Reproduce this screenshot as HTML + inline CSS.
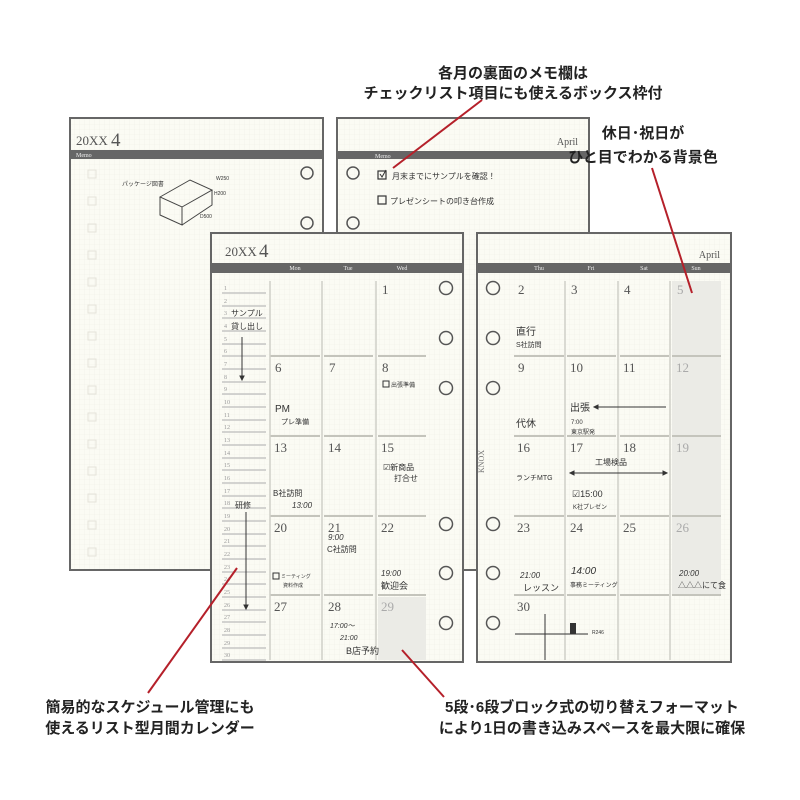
<!DOCTYPE html>
<html><head><meta charset="utf-8"><style>
html,body{margin:0;padding:0;background:#fff;}
svg{display:block;}
.h{font-family:"Liberation Sans","Noto Sans CJK JP",sans-serif;font-weight:bold;font-size:15px;fill:#222;}
.s{font-family:"Liberation Serif",serif;fill:#555;}
.w{font-family:"Liberation Sans","Noto Sans CJK JP",sans-serif;fill:#333;}
</style></head><body>
<svg width="800" height="800" viewBox="0 0 800 800" xmlns="http://www.w3.org/2000/svg">
<defs>
<pattern id="g" width="5" height="5" patternUnits="userSpaceOnUse">
<path d="M5 0V5H0" fill="none" stroke="#efeee6" stroke-width="0.6"/>
</pattern>
</defs>
<rect width="800" height="800" fill="#fff"/>

<!-- back left page -->
<rect x="70" y="118" width="253" height="452" fill="#fbfbf4"/>
<rect x="70" y="118" width="253" height="452" fill="url(#g)" stroke="#666" stroke-width="2"/>
<text x="76" y="145" class="s" font-size="13">20XX</text><text x="111" y="146" class="s" font-size="19">4</text>
<rect x="71" y="150" width="251" height="9" fill="#666"/>
<text x="76" y="157" font-family="Liberation Serif" font-size="6" fill="#eee">Memo</text>
<g fill="none" stroke="#e4e3da" stroke-width="1">
<rect x="88" y="170" width="8" height="8"/><rect x="88" y="197" width="8" height="8"/><rect x="88" y="224" width="8" height="8"/><rect x="88" y="251" width="8" height="8"/><rect x="88" y="278" width="8" height="8"/><rect x="88" y="305" width="8" height="8"/><rect x="88" y="332" width="8" height="8"/><rect x="88" y="359" width="8" height="8"/><rect x="88" y="386" width="8" height="8"/><rect x="88" y="413" width="8" height="8"/><rect x="88" y="440" width="8" height="8"/><rect x="88" y="467" width="8" height="8"/><rect x="88" y="494" width="8" height="8"/><rect x="88" y="521" width="8" height="8"/><rect x="88" y="548" width="8" height="8"/>
</g>
<text x="122" y="186" class="w" font-size="6">パッケージ図書</text>
<g fill="none" stroke="#444" stroke-width="1">
<path d="M160 197 L190 180 L212 190 L182 207 Z M160 197 V215 L182 225 V207 M212 190 V205 L182 225"/>
</g>
<text x="216" y="180" class="w" font-size="5">W250</text>
<text x="214" y="195" class="w" font-size="5">H200</text>
<text x="200" y="218" class="w" font-size="5">D500</text>
<circle cx="307" cy="173" r="6" fill="none" stroke="#555" stroke-width="1.5"/>
<circle cx="307" cy="223" r="6" fill="none" stroke="#555" stroke-width="1.5"/>

<!-- back right page -->
<rect x="337" y="118" width="252" height="452" fill="#fbfbf4"/>
<rect x="337" y="118" width="252" height="452" fill="url(#g)" stroke="#666" stroke-width="2"/>
<text x="578" y="145" text-anchor="end" class="s" font-size="10">April</text>
<rect x="338" y="151" width="250" height="8" fill="#666"/>
<text x="375" y="158" font-family="Liberation Serif" font-size="6" fill="#eee">Memo</text>
<circle cx="353" cy="173" r="6" fill="none" stroke="#555" stroke-width="1.5"/>
<circle cx="353" cy="223" r="6" fill="none" stroke="#555" stroke-width="1.5"/>
<rect x="378" y="171" width="8" height="8" fill="none" stroke="#333" stroke-width="1.2"/>
<path d="M380 174 l2 3 l4 -7" fill="none" stroke="#333"/>
<text x="392" y="179" class="w" font-size="8">月末までにサンプルを確認！</text>
<rect x="378" y="196" width="8" height="8" fill="none" stroke="#333" stroke-width="1.2"/>
<text x="390" y="204" class="w" font-size="8">プレゼンシートの叩き台作成</text>

<!-- front left page -->
<rect x="211" y="233" width="252" height="429" fill="#fbfbf4"/>
<rect x="211" y="233" width="252" height="429" fill="url(#g)" stroke="#666" stroke-width="2"/>
<text x="225" y="256" class="s" font-size="13">20XX</text><text x="259" y="257" class="s" font-size="19">4</text>
<rect x="212" y="263" width="250" height="10" fill="#666"/>
<g font-family="Liberation Serif" font-size="6" fill="#eee" text-anchor="middle">
<text x="295" y="270">Mon</text><text x="348" y="270">Tue</text><text x="402" y="270">Wed</text>
</g>
<rect x="378" y="597" width="48" height="63" fill="#ebebe6"/>
<g stroke="#bbb" stroke-width="1.2">
<line x1="222" y1="293" x2="266" y2="293"/><line x1="222" y1="306" x2="266" y2="306"/><line x1="222" y1="318" x2="266" y2="318"/><line x1="222" y1="331" x2="266" y2="331"/><line x1="222" y1="344" x2="266" y2="344"/><line x1="222" y1="356" x2="266" y2="356"/><line x1="222" y1="369" x2="266" y2="369"/><line x1="222" y1="382" x2="266" y2="382"/><line x1="222" y1="394" x2="266" y2="394"/><line x1="222" y1="407" x2="266" y2="407"/><line x1="222" y1="420" x2="266" y2="420"/><line x1="222" y1="432" x2="266" y2="432"/><line x1="222" y1="445" x2="266" y2="445"/><line x1="222" y1="458" x2="266" y2="458"/><line x1="222" y1="470" x2="266" y2="470"/><line x1="222" y1="483" x2="266" y2="483"/><line x1="222" y1="496" x2="266" y2="496"/><line x1="222" y1="508" x2="266" y2="508"/><line x1="222" y1="521" x2="266" y2="521"/><line x1="222" y1="534" x2="266" y2="534"/><line x1="222" y1="546" x2="266" y2="546"/><line x1="222" y1="559" x2="266" y2="559"/><line x1="222" y1="572" x2="266" y2="572"/><line x1="222" y1="584" x2="266" y2="584"/><line x1="222" y1="597" x2="266" y2="597"/><line x1="222" y1="610" x2="266" y2="610"/><line x1="222" y1="622" x2="266" y2="622"/><line x1="222" y1="635" x2="266" y2="635"/><line x1="222" y1="648" x2="266" y2="648"/><line x1="222" y1="660" x2="266" y2="660"/>
</g>
<g font-family="Liberation Serif" font-size="6" fill="#999">
<text x="224" y="290">1</text><text x="224" y="303">2</text><text x="224" y="315">3</text><text x="224" y="328">4</text><text x="224" y="341">5</text><text x="224" y="353">6</text><text x="224" y="366">7</text><text x="224" y="379">8</text><text x="224" y="391">9</text><text x="224" y="404">10</text><text x="224" y="417">11</text><text x="224" y="429">12</text><text x="224" y="442">13</text><text x="224" y="455">14</text><text x="224" y="467">15</text><text x="224" y="480">16</text><text x="224" y="493">17</text><text x="224" y="505">18</text><text x="224" y="518">19</text><text x="224" y="531">20</text><text x="224" y="543">21</text><text x="224" y="556">22</text><text x="224" y="569">23</text><text x="224" y="581">24</text><text x="224" y="594">25</text><text x="224" y="607">26</text><text x="224" y="619">27</text><text x="224" y="632">28</text><text x="224" y="645">29</text><text x="224" y="657">30</text>
</g>
<g class="w" font-size="8"><text x="231" y="316">サンプル</text><text x="231" y="329">貸し出し</text><text x="235" y="508">研修</text></g>
<g stroke="#333" stroke-width="1"><line x1="242" y1="337" x2="242" y2="378"/><path d="M240 376 l2 4 l2 -4z" fill="#333"/><line x1="246" y1="512" x2="246" y2="607"/><path d="M244 605 l2 4 l2 -4z" fill="#333"/></g>
<g stroke="#c4c4bc" stroke-width="2">
<line x1="270" y1="356" x2="320" y2="356"/><line x1="324" y1="356" x2="373" y2="356"/><line x1="378" y1="356" x2="426" y2="356"/>
<line x1="270" y1="436" x2="320" y2="436"/><line x1="324" y1="436" x2="373" y2="436"/><line x1="378" y1="436" x2="426" y2="436"/>
<line x1="270" y1="516" x2="320" y2="516"/><line x1="324" y1="516" x2="373" y2="516"/><line x1="378" y1="516" x2="426" y2="516"/>
<line x1="270" y1="595" x2="320" y2="595"/><line x1="324" y1="595" x2="373" y2="595"/><line x1="378" y1="595" x2="426" y2="595"/>
</g>
<g stroke="#d0d0c8" stroke-width="1.5">
<line x1="270" y1="281" x2="270" y2="660"/><line x1="322" y1="281" x2="322" y2="660"/><line x1="376" y1="281" x2="376" y2="660"/>
</g>
<g class="s" font-size="13">
<text x="382" y="294">1</text>
<text x="275" y="372">6</text><text x="329" y="372">7</text><text x="382" y="372">8</text>
<text x="274" y="452">13</text><text x="328" y="452">14</text><text x="381" y="452">15</text>
<text x="274" y="532">20</text><text x="328" y="532">21</text><text x="381" y="532">22</text>
<text x="274" y="611">27</text><text x="328" y="611">28</text><text x="381" y="611" fill="#aaa">29</text>
</g>
<g class="w">
<rect x="383" y="381" width="6" height="6" fill="none" stroke="#333"/><text x="391" y="387" font-size="6">出張準備</text>
<text x="275" y="412" font-size="10">PM</text><text x="281" y="424" font-size="7">プレ準備</text>
<text x="383" y="470" font-size="8">☑新商品</text><text x="394" y="481" font-size="8">打合せ</text>
<text x="273" y="496" font-size="8">B社訪問</text><text x="292" y="508" font-size="8" font-style="italic">13:00</text>
<text x="328" y="540" font-size="8" font-style="italic">9:00</text><text x="327" y="552" font-size="8">C社訪問</text>
<rect x="273" y="573" width="6" height="6" fill="none" stroke="#333"/><text x="281" y="578" font-size="5">ミーティング</text><text x="283" y="587" font-size="5">資料作成</text>
<text x="381" y="576" font-size="8" font-style="italic">19:00</text><text x="381" y="589" font-size="9">歓迎会</text>
<text x="330" y="628" font-size="7" font-style="italic">17:00〜</text><text x="340" y="640" font-size="7" font-style="italic">21:00</text>
<text x="346" y="654" font-size="9">B店予約</text>
</g>
<g fill="none" stroke="#555" stroke-width="1.5">
<circle cx="446" cy="288" r="6.5"/><circle cx="446" cy="338" r="6.5"/><circle cx="446" cy="388" r="6.5"/><circle cx="446" cy="524" r="6.5"/><circle cx="446" cy="573" r="6.5"/><circle cx="446" cy="623" r="6.5"/>
</g>

<!-- front right page -->
<rect x="477" y="233" width="254" height="429" fill="#fbfbf4"/>
<rect x="477" y="233" width="254" height="429" fill="url(#g)" stroke="#666" stroke-width="2"/>
<text x="720" y="258" text-anchor="end" class="s" font-size="10">April</text>
<rect x="478" y="263" width="252" height="10" fill="#666"/>
<g font-family="Liberation Serif" font-size="6" fill="#eee" text-anchor="middle">
<text x="539" y="270">Thu</text><text x="591" y="270">Fri</text><text x="644" y="270">Sat</text><text x="696" y="270">Sun</text>
</g>
<rect x="672" y="281" width="49" height="314" fill="#ebebe6"/>
<g stroke="#c4c4bc" stroke-width="2">
<line x1="514" y1="356" x2="564" y2="356"/><line x1="567" y1="356" x2="616" y2="356"/><line x1="620" y1="356" x2="669" y2="356"/><line x1="672" y1="356" x2="721" y2="356"/>
<line x1="514" y1="436" x2="564" y2="436"/><line x1="567" y1="436" x2="616" y2="436"/><line x1="620" y1="436" x2="669" y2="436"/><line x1="672" y1="436" x2="721" y2="436"/>
<line x1="514" y1="516" x2="564" y2="516"/><line x1="567" y1="516" x2="616" y2="516"/><line x1="620" y1="516" x2="669" y2="516"/><line x1="672" y1="516" x2="721" y2="516"/>
<line x1="514" y1="595" x2="564" y2="595"/><line x1="567" y1="595" x2="616" y2="595"/><line x1="620" y1="595" x2="669" y2="595"/><line x1="672" y1="595" x2="721" y2="595"/>
</g>
<g stroke="#d0d0c8" stroke-width="1.5">
<line x1="565" y1="281" x2="565" y2="660"/><line x1="618" y1="281" x2="618" y2="660"/><line x1="670" y1="281" x2="670" y2="660"/>
</g>
<g class="s" font-size="13">
<text x="518" y="294">2</text><text x="571" y="294">3</text><text x="624" y="294">4</text><text x="677" y="294" fill="#aaa">5</text>
<text x="518" y="372">9</text><text x="570" y="372">10</text><text x="623" y="372">11</text><text x="676" y="372" fill="#aaa">12</text>
<text x="517" y="452">16</text><text x="570" y="452">17</text><text x="623" y="452">18</text><text x="676" y="452" fill="#aaa">19</text>
<text x="517" y="532">23</text><text x="570" y="532">24</text><text x="623" y="532">25</text><text x="676" y="532" fill="#aaa">26</text>
<text x="517" y="611">30</text>
</g>
<g class="w">
<text x="516" y="335" font-size="10">直行</text><text x="516" y="347" font-size="7">S社訪問</text>
<text x="570" y="411" font-size="10">出張</text>
<text x="516" y="427" font-size="10">代休</text><text x="571" y="424" font-size="6">7:00</text><text x="571" y="434" font-size="6">東京駅発</text>
<text x="595" y="465" font-size="8">工場検品</text>
<text x="516" y="480" font-size="7">ランチMTG</text>
<text x="572" y="497" font-size="9">☑15:00</text><text x="573" y="509" font-size="6">K社プレゼン</text>
<text x="520" y="578" font-size="8" font-style="italic">21:00</text><text x="523" y="591" font-size="9">レッスン</text>
<text x="571" y="574" font-size="10" font-style="italic">14:00</text><text x="570" y="587" font-size="6">事務ミーティング</text>
<text x="679" y="576" font-size="8" font-style="italic">20:00</text><text x="678" y="588" font-size="8">△△△にて食</text>
<text x="592" y="634" font-size="5">R246</text>
</g>
<text transform="translate(484,473) rotate(-90)" font-family="Liberation Serif" font-size="8" fill="#777">KNOX</text>
<g stroke="#333" stroke-width="1">
<line x1="594" y1="407" x2="666" y2="407"/><path d="M594 407 l4 -2 v4z" fill="#333"/>
<line x1="570" y1="473" x2="667" y2="473"/><path d="M570 473 l4 -2 v4z M667 473 l-4 -2 v4z" fill="#333"/>
<line x1="545" y1="614" x2="545" y2="660"/><line x1="515" y1="634" x2="588" y2="634"/>
</g>
<rect x="570" y="623" width="6" height="11" fill="#333"/>
<g fill="none" stroke="#555" stroke-width="1.5">
<circle cx="493" cy="288" r="6.5"/><circle cx="493" cy="338" r="6.5"/><circle cx="493" cy="388" r="6.5"/><circle cx="493" cy="524" r="6.5"/><circle cx="493" cy="573" r="6.5"/><circle cx="493" cy="623" r="6.5"/>
</g>

<g stroke="#b5202a" stroke-width="2">
<line x1="482" y1="100" x2="393" y2="168"/>
<line x1="652" y1="168" x2="692" y2="293"/>
<line x1="237" y1="568" x2="148" y2="693"/>
<line x1="402" y1="650" x2="444" y2="697"/>
</g>

<g class="h" text-anchor="middle">
<text x="513" y="78">各月の裏面のメモ欄は</text>
<text x="513" y="98">チェックリスト項目にも使えるボックス枠付</text>
<text x="643" y="138">休日･祝日が</text>
<text x="643" y="162">ひと目でわかる背景色</text>
<text x="150" y="712">簡易的なスケジュール管理にも</text>
<text x="150" y="733">使えるリスト型月間カレンダー</text>
<text x="592" y="712">5段･6段ブロック式の切り替えフォーマット</text>
<text x="592" y="733">により1日の書き込みスペースを最大限に確保</text>
</g>
</svg>
</body></html>
